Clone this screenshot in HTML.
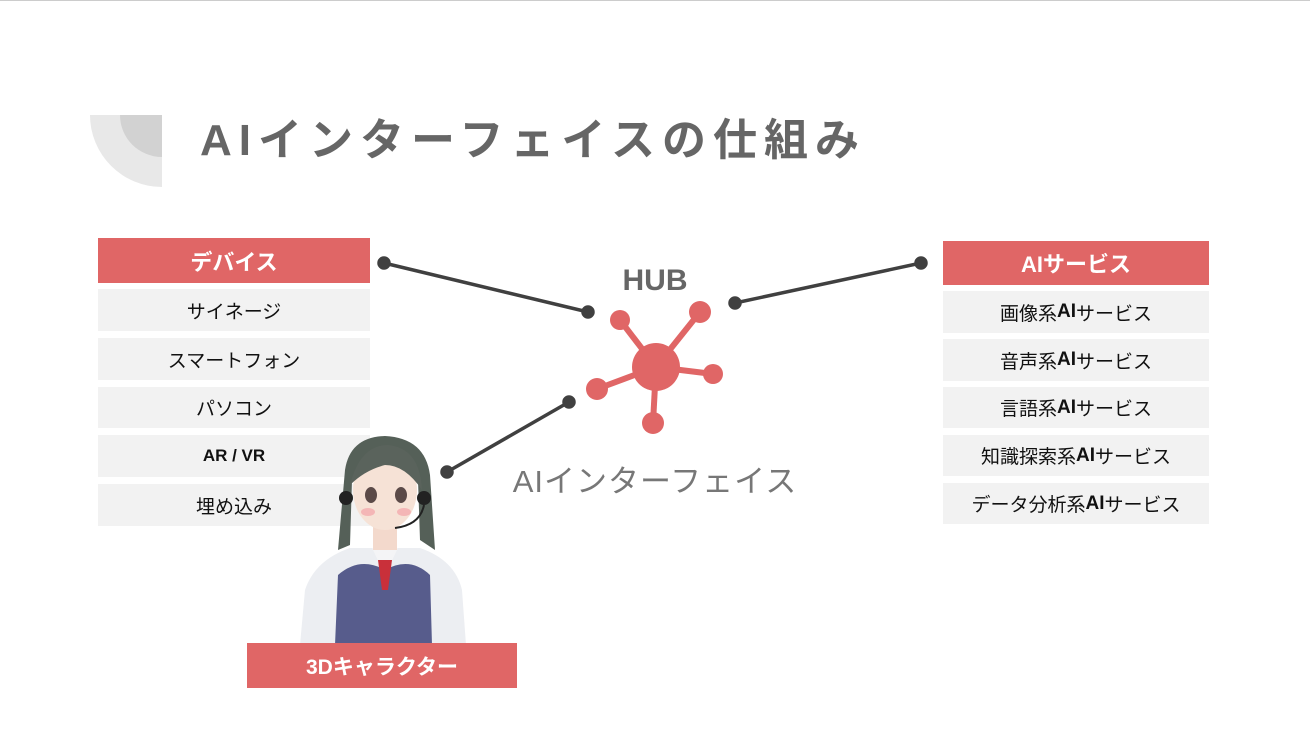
<!DOCTYPE html>
<html><head><meta charset="utf-8"><style>
body{margin:0;width:1310px;height:738px;background:#fff;position:relative;overflow:hidden;font-family:"Liberation Sans","Noto Sans CJK JP",sans-serif}
.b{position:absolute;display:flex;align-items:center;justify-content:center;font-size:19px;color:#111}
.h{background:#e06666;color:#fff;font-weight:bold;font-size:22px}
.i{background:#f2f2f2}
</style></head><body>
<div style="position:absolute;left:0;top:0;width:1310px;height:1px;background:#ccc"></div>
<svg width="1310" height="738" style="position:absolute;left:0;top:0">
<path d="M90 115 H162 V187 A72 72 0 0 1 90 115Z" fill="#e8e8e8"/>
<path d="M120 115 H162 V157 A42 42 0 0 1 120 115Z" fill="#d2d2d2"/>
<g stroke="#404040" stroke-width="3.5" fill="#404040">
<line x1="384" y1="263" x2="588" y2="312"/><circle cx="384" cy="263" r="5"/><circle cx="588" cy="312" r="5"/>
<line x1="921" y1="263" x2="735" y2="303"/><circle cx="921" cy="263" r="5"/><circle cx="735" cy="303" r="5"/>
<line x1="569" y1="402" x2="447" y2="472"/><circle cx="569" cy="402" r="5"/><circle cx="447" cy="472" r="5"/>
</g>
<g stroke="#e06666" stroke-width="6" fill="#e06666">
<line x1="656" y1="367" x2="620" y2="320"/><line x1="656" y1="367" x2="700" y2="312"/>
<line x1="656" y1="367" x2="713" y2="374"/><line x1="656" y1="367" x2="597" y2="389"/>
<line x1="656" y1="367" x2="653" y2="423"/>
<circle cx="656" cy="367" r="24" stroke="none"/>
<circle cx="620" cy="320" r="10" stroke="none"/><circle cx="700" cy="312" r="11" stroke="none"/>
<circle cx="713" cy="374" r="10" stroke="none"/><circle cx="597" cy="389" r="11" stroke="none"/>
<circle cx="653" cy="423" r="11" stroke="none"/>
</g>
</svg>
<div style="position:absolute;left:200px;top:104px;font-size:44px;font-weight:bold;color:#666;white-space:nowrap;letter-spacing:7px">AIインターフェイスの仕組み</div>
<div style="position:absolute;left:555px;top:264px;width:200px;text-align:center;font-size:30px;font-weight:bold;color:#666">HUB</div>
<div style="position:absolute;left:480px;top:456px;width:350px;text-align:center;font-size:31px;color:#777;letter-spacing:1px">AIインターフェイス</div>
<div class="b h" style="left:98px;top:238px;width:272px;height:45px">デバイス</div>
<div class="b i" style="left:98px;top:289px;width:272px;height:42px">サイネージ</div>
<div class="b i" style="left:98px;top:338px;width:272px;height:42px">スマートフォン</div>
<div class="b i" style="left:98px;top:387px;width:272px;height:41px">パソコン</div>
<div class="b i" style="left:98px;top:435px;width:272px;height:42px;font-weight:bold;font-size:17px">AR / VR</div>
<div class="b i" style="left:98px;top:484px;width:272px;height:42px">埋め込み</div>
<div class="b h" style="left:943px;top:241px;width:266px;height:44px">AIサービス</div>
<div class="b i" style="left:943px;top:291px;width:266px;height:42px">画像系<b>AI</b>サービス</div>
<div class="b i" style="left:943px;top:339px;width:266px;height:42px">音声系<b>AI</b>サービス</div>
<div class="b i" style="left:943px;top:387px;width:266px;height:41px">言語系<b>AI</b>サービス</div>
<div class="b i" style="left:943px;top:435px;width:266px;height:41px">知識探索系<b>AI</b>サービス</div>
<div class="b i" style="left:943px;top:483px;width:266px;height:41px">データ分析系<b>AI</b>サービス</div>
<svg width="1310" height="738" style="position:absolute;left:0;top:0">
<path d="M300 645 L305 590 Q315 560 350 548 L420 548 Q455 560 462 590 L466 645Z" fill="#eceef2"/>
<path d="M335 645 L338 575 Q360 556 385 570 Q410 556 430 575 L432 645Z" fill="#575c8c"/>
<path d="M372 548 L385 575 L398 548Z" fill="#f4f4f6"/>
<path d="M378 560 L392 560 L388 590 L382 590Z" fill="#c9303a"/>
<rect x="373" y="520" width="24" height="30" fill="#f3d9cc"/>
<path d="M345 470 Q350 437 385 436 Q425 438 430 475 L435 550 L420 540 L418 480 L352 480 L350 545 L338 550Z" fill="#556058"/>
<ellipse cx="385" cy="490" rx="32" ry="40" fill="#f6e2d6"/>
<path d="M350 485 Q360 445 388 445 Q420 448 422 490 Q405 465 385 465 Q365 470 350 485Z" fill="#5a635c"/>
<ellipse cx="371" cy="495" rx="6" ry="8" fill="#5b4a48"/><ellipse cx="401" cy="495" rx="6" ry="8" fill="#5b4a48"/>
<ellipse cx="368" cy="512" rx="7" ry="4" fill="#f4b6b6"/><ellipse cx="404" cy="512" rx="7" ry="4" fill="#f4b6b6"/>
<circle cx="346" cy="498" r="7" fill="#222"/><circle cx="424" cy="498" r="7" fill="#222"/>
<path d="M424 505 Q420 525 395 528" stroke="#222" stroke-width="2" fill="none"/>
</svg>
<div class="b h" style="left:247px;top:643px;width:270px;height:45px;font-size:21px">3Dキャラクター</div>
</body></html>
